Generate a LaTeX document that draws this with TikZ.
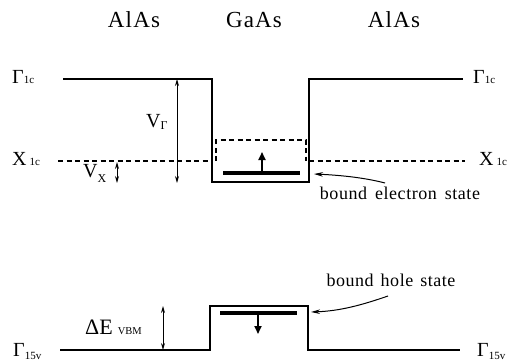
\documentclass[tikz,border=0pt]{standalone}
\usepackage{fontspec}
\setmainfont{Liberation Serif}
\usetikzlibrary{arrows.meta}
\begin{document}
\begin{tikzpicture}[x=1pt,y=-1pt,
  band/.style={line width=1.6pt},
  dashband/.style={line width=1.6pt, dash pattern=on 5pt off 3.5pt},
  level/.style={line width=3.6pt},
  spin/.style={line width=1.8pt,-{Triangle[length=8pt,width=7pt]}},
  dim/.style={line width=0.9pt,{Stealth[length=7pt,width=4pt]}-{Stealth[length=7pt,width=4pt]}},
  pointer/.style={line width=1pt,-{Stealth[length=9pt,width=4.5pt]}},
  txt/.style={inner sep=0pt, anchor=base west},
  mat/.style={inner sep=0pt, anchor=base, font=\fontsize{23}{23}\selectfont\addfontfeature{LetterSpace=5}},
  big/.style={txt, font=\fontsize{20}{20}\selectfont},
  note/.style={inner sep=0pt, anchor=base, font=\fontsize{18}{18}\selectfont\addfontfeature{LetterSpace=3}},
]
\useasboundingbox (0,0) rectangle (515,362);
\newcommand{\sbs}[1]{{\fontsize{11}{10}\selectfont #1}}

% material labels
\node[mat] (m1) at (134,27) {AlAs};
\node[mat] (m2) at (254,27) {GaAs};
\node[mat] (m3) at (394,27) {AlAs};

% conduction band Gamma
\coordinate (c1) at (63,79);
\coordinate (c2) at (212,79);
\coordinate (c3) at (212,182);
\coordinate (c4) at (309,182);
\coordinate (c5) at (309,79);
\coordinate (c6) at (463,79);
\draw[band] (c1) -- (c2) -- (c3) -- (c4) -- (c5) -- (c6);

% X band
\coordinate (x1) at (58,161);
\coordinate (x2) at (212,161);
\coordinate (x3) at (309,161);
\coordinate (x4) at (465,161);
\draw[dashband] (x1) -- (x2);
\draw[dashband] (x3) -- (x4);
\coordinate (d1) at (216,161);
\coordinate (d2) at (216,140);
\coordinate (d3) at (306,140);
\coordinate (d4) at (306,161);
\draw[dashband] (d1) -- (d2) -- (d3) -- (d4);

% bound electron state
\coordinate (e1) at (223,173);
\coordinate (e2) at (300,173);
\coordinate (e3) at (262,173);
\coordinate (e4) at (262,152);
\draw[level] (e1) -- (e2);
\draw[spin] (e3) -- (e4);

% valence band
\coordinate (v1) at (60,350);
\coordinate (v2) at (210,350);
\coordinate (v3) at (210,306);
\coordinate (v4) at (308,306);
\coordinate (v5) at (308,350);
\coordinate (v6) at (460,350);
\draw[band] (v1) -- (v2) -- (v3) -- (v4) -- (v5) -- (v6);

% bound hole state
\coordinate (h1) at (220,313);
\coordinate (h2) at (297,313);
\coordinate (h3) at (258,313);
\coordinate (h4) at (258,334);
\draw[level] (h1) -- (h2);
\draw[spin] (h3) -- (h4);

% dimension arrows
\coordinate (vg1) at (177,79);
\coordinate (vg2) at (177,183);
\draw[dim] (vg1) -- (vg2);
\coordinate (vx1) at (117,162);
\coordinate (vx2) at (117,183);
\draw[dim] (vx1) -- (vx2);
\coordinate (ve1) at (163,306);
\coordinate (ve2) at (163,350);
\draw[dim] (ve1) -- (ve2);

% band labels
\node[big] (lg1) at (12,83) {Γ\sbs{1c}};
\node[big] (rg1) at (473,83) {Γ\sbs{1c}};
\node[big] (lx1) at (12,165) {X\hspace{3pt}\sbs{1c}};
\node[big] (rx1) at (479,165) {X\hspace{3pt}\sbs{1c}};
\node[big] (lg15) at (13,356) {Γ\raisebox{-3pt}{\sbs{15v}}};
\node[big] (rg15) at (477,356) {Γ\raisebox{-3pt}{\sbs{15v}}};

\node[big,font=\fontsize{20}{20}\selectfont] (vgl) at (146,127) {V\raisebox{-2pt}{\fontsize{12}{12}\selectfont Γ}};
\node[big,font=\fontsize{20}{20}\selectfont] (vxl) at (83,177) {V\raisebox{-5pt}{\fontsize{12}{12}\selectfont X}};
\node[big,font=\fontsize{22}{22}\selectfont] (del) at (85,334) {ΔE\hspace{5pt}{\fontsize{10.5}{10}\selectfont VBM}};

% notes
\node[note] (en) at (400,199) {bound\hspace{8pt}electron\hspace{8pt}state};
\node[note] (hn) at (391,286) {bound\hspace{7pt}hole\hspace{7pt}state};
\coordinate (ea) at (385,183);
\coordinate (et) at (314,174);
\draw[pointer] (ea) .. controls (362,177) and (336,175) .. (et);
\coordinate (ha) at (388,296);
\coordinate (ht) at (311,312);
\draw[pointer] (ha) .. controls (362,305) and (340,311) .. (ht);
\end{tikzpicture}
\end{document}
